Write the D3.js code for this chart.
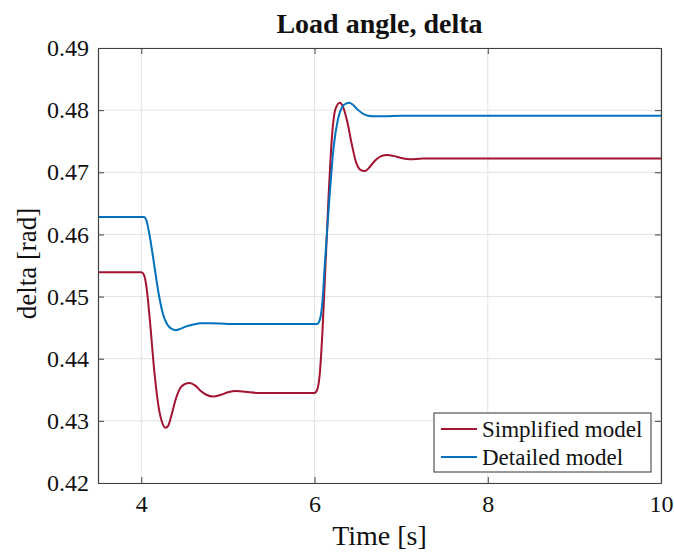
<!DOCTYPE html>
<html>
<head>
<meta charset="utf-8">
<script src="https://cdn.jsdelivr.net/npm/d3@7"></script>
<style>
  html, body { margin: 0; padding: 0; background: #fff; }
  svg { display: block; }
  svg text { font-family: "Liberation Serif", "Times New Roman", serif; }
</style>
</head>
<body>
<svg id="chart" width="674" height="553"></svg>
<script>
// Simulated load angle response (time in s, delta in rad)
const simplifiedTime = [3.5, 4.0, 4.03, 4.06, 4.1, 4.15, 4.2, 4.25, 4.28, 4.31, 4.35, 4.4, 4.45, 4.5, 4.56, 4.62, 4.68, 4.75, 4.83, 4.92, 5.0, 5.1, 5.2, 5.35, 5.6, 6.0,
  6.03, 6.06, 6.09, 6.12, 6.16, 6.2, 6.24, 6.29, 6.33, 6.38, 6.43, 6.48, 6.53, 6.58, 6.64, 6.7, 6.77, 6.84, 6.92, 7.0, 7.1, 7.25, 7.5, 10];
const simplifiedDelta = [0.4539, 0.4539, 0.4535, 0.4515, 0.4460, 0.4380, 0.4322, 0.4294, 0.4289, 0.4292, 0.4310, 0.4336, 0.4353, 0.4359, 0.4361, 0.4357, 0.4349, 0.4342, 0.4339, 0.4342, 0.4346, 0.4348, 0.4347, 0.4345, 0.4345, 0.4345,
  0.4350, 0.4375, 0.4440, 0.4530, 0.4655, 0.4755, 0.4801, 0.4812, 0.4805, 0.4780, 0.4745, 0.4716, 0.4704, 0.4702, 0.4709, 0.4719, 0.4726, 0.4728, 0.4726, 0.4723, 0.4721, 0.4722, 0.4722, 0.4722];

const detailedTime = [3.5, 4.03, 4.06, 4.1, 4.15, 4.2, 4.25, 4.3, 4.35, 4.4, 4.45, 4.52, 4.6, 4.68, 4.8, 5.0, 5.5, 6.03,
  6.06, 6.09, 6.12, 6.17, 6.22, 6.27, 6.32, 6.37, 6.4, 6.44, 6.49, 6.55, 6.62, 6.7, 6.8, 7.0, 10];
const detailedDelta = [0.4628, 0.4628, 0.4622, 0.4595, 0.4550, 0.4505, 0.4472, 0.4455, 0.4448, 0.4446, 0.4448, 0.4452, 0.4455, 0.4457, 0.4457, 0.4456, 0.4456, 0.4456,
  0.4462, 0.4490, 0.4555, 0.4655, 0.4740, 0.4785, 0.4805, 0.4811, 0.4812, 0.4809, 0.4802, 0.4795, 0.4791, 0.4790, 0.4790, 0.4791, 0.4791];

const xTicks = [4, 6, 8, 10];
const yTicks = [0.42, 0.43, 0.44, 0.45, 0.46, 0.47, 0.48, 0.49];
const seriesNames = ["Simplified model", "Detailed model"];
const seriesColors = ["#A2142F", "#0072BD"];

const svg = d3.select("#chart");
const plotLeft = 98, plotRight = 661, plotTop = 48, plotBottom = 483;

const x = d3.scaleLinear().domain([3.5, 10]).range([plotLeft, plotRight]);
const y = d3.scaleLinear().domain([0.42, 0.49]).range([plotBottom, plotTop]);

// grid
const grid = svg.append("g");
grid.selectAll("line.gx").data(xTicks).join("line")
  .attr("x1", d => x(d)).attr("x2", d => x(d))
  .attr("y1", plotTop).attr("y2", plotBottom)
  .attr("stroke", "#e3e3e3").attr("stroke-width", 1);
grid.selectAll("line.gy").data(yTicks).join("line")
  .attr("x1", plotLeft).attr("x2", plotRight)
  .attr("y1", d => y(d)).attr("y2", d => y(d))
  .attr("stroke", "#e3e3e3").attr("stroke-width", 1);

// series
const line = d3.line().curve(d3.curveMonotoneX)
  .x(d => x(d[0])).y(d => y(d[1]));
const series = [
  d3.zip(simplifiedTime, simplifiedDelta),
  d3.zip(detailedTime, detailedDelta)
];
svg.append("g").selectAll("path").data(series).join("path")
  .attr("d", line)
  .attr("fill", "none")
  .attr("stroke", (d, i) => seriesColors[i])
  .attr("stroke-width", 2);

// axes (box with inward ticks)
const axisColor = "#404040";
const tickLen = 6;

const xAxisB = d3.axisBottom(x).tickValues(xTicks).tickSizeInner(-tickLen).tickSizeOuter(0).tickPadding(12).tickFormat(d3.format("d"));
const xAxisT = d3.axisTop(x).tickValues(xTicks).tickSizeInner(-tickLen).tickSizeOuter(0).tickFormat("");
const yAxisL = d3.axisLeft(y).tickValues(yTicks).tickSizeInner(-tickLen).tickSizeOuter(0).tickPadding(9).tickFormat(d3.format(".2f"));
const yAxisR = d3.axisRight(y).tickValues(yTicks).tickSizeInner(-tickLen).tickSizeOuter(0).tickFormat("");

function style(g) {
  g.attr("font-family", null).attr("font-size", null);
  g.select(".domain").attr("stroke", axisColor).attr("stroke-width", 1.2);
  g.selectAll(".tick line").attr("stroke", axisColor);
  g.selectAll(".tick text").attr("fill", "#111").style("font-size", "24px");
}
svg.append("g").attr("transform", `translate(0,${plotBottom})`).call(xAxisB).call(style);
svg.append("g").attr("transform", `translate(0,${plotTop})`).call(xAxisT).call(style);
svg.append("g").attr("transform", `translate(${plotLeft},0)`).call(yAxisL).call(style);
svg.append("g").attr("transform", `translate(${plotRight},0)`).call(yAxisR).call(style);

// title and labels
svg.append("text")
  .attr("x", (plotLeft + plotRight) / 2).attr("y", 33)
  .attr("text-anchor", "middle").attr("font-weight", "bold").style("font-size", "28px")
  .attr("fill", "#111").text("Load angle, delta");
svg.append("text")
  .attr("x", (plotLeft + plotRight) / 2).attr("y", 545)
  .attr("text-anchor", "middle").style("font-size", "28px")
  .attr("fill", "#111").text("Time [s]");
svg.append("text")
  .attr("transform", `translate(36,${(plotTop + plotBottom) / 2 - 2}) rotate(-90)`)
  .attr("text-anchor", "middle").style("font-size", "27px")
  .attr("fill", "#111").text("delta [rad]");

// legend
const lg = svg.append("g");
lg.append("rect")
  .attr("x", 434).attr("y", 413).attr("width", 217).attr("height", 59)
  .attr("fill", "#fff").attr("stroke", "#555").attr("stroke-width", 1.2);
const items = lg.selectAll("g.item").data(seriesNames).join("g")
  .attr("transform", (d, i) => `translate(0,${429 + i * 28})`);
items.append("line")
  .attr("x1", 441).attr("x2", 477).attr("y1", 0).attr("y2", 0)
  .attr("stroke", (d, i) => seriesColors[i]).attr("stroke-width", 2);
items.append("text")
  .attr("x", 482).attr("y", 0).attr("dy", "0.33em")
  .style("font-size", "23px").attr("fill", "#111").text(d => d);
</script>
</body>
</html>
